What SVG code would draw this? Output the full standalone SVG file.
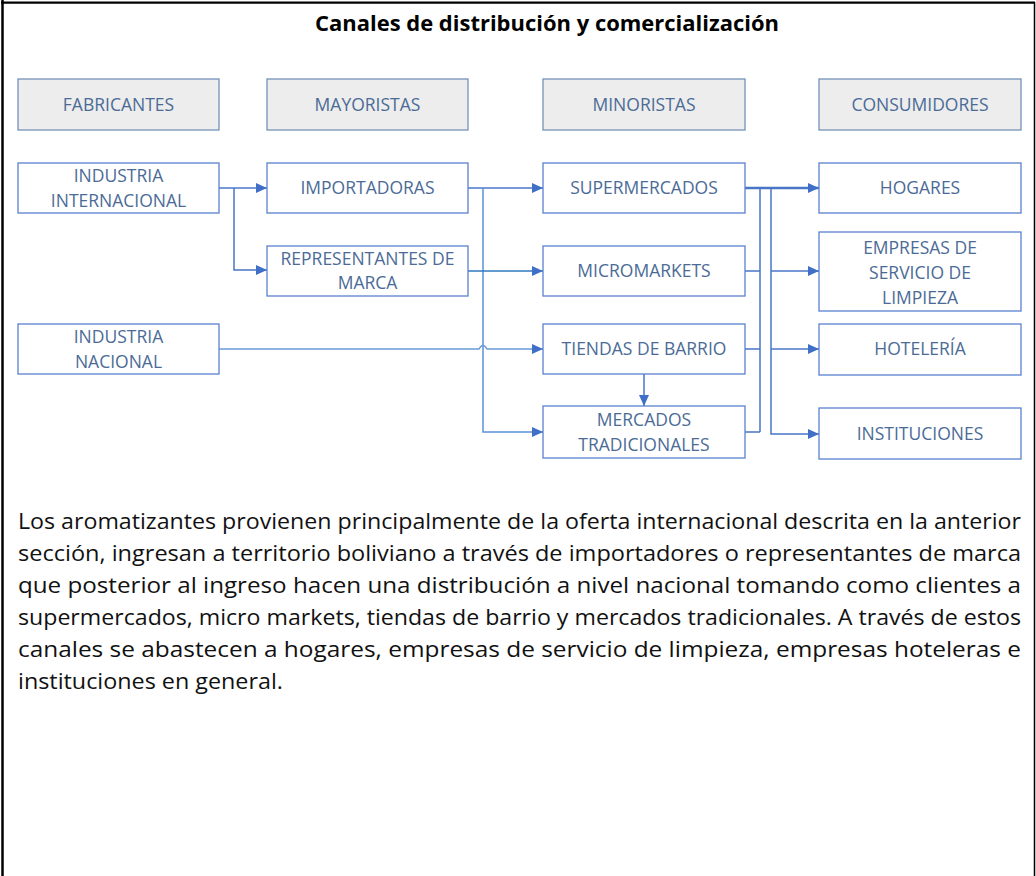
<svg xmlns="http://www.w3.org/2000/svg" width="1036" height="876" viewBox="0 0 1036 876">
<style>
.hdr rect{fill:#ededed;stroke:#7592ba;stroke-width:1.3}
.box rect{fill:#fff;stroke:#5b82d1;stroke-width:1.3}
.lbl{font-family:"Open Sans","Liberation Sans",sans-serif;font-size:17.5px;fill:#4b6b96;text-anchor:middle}
.ttl{font-family:"Open Sans","Liberation Sans",sans-serif;font-size:21px;font-weight:bold;fill:#000}
.body{font-family:"Open Sans","Liberation Sans",sans-serif;font-size:21.5px;fill:#111}
.cn{fill:none;stroke:#4a76c8;stroke-width:1.5}
.arr{marker-end:url(#ah)}
</style>
<defs>
<marker id="ah" markerUnits="userSpaceOnUse" markerWidth="11" markerHeight="10" refX="11" refY="5" orient="auto">
<path d="M0,0 L11,5 L0,10 z" fill="#3f6fc6"/>
</marker>
</defs>
<rect x="0" y="0" width="1036" height="876" fill="#fff"/>
<g id="frame" fill="none" stroke="#000">
<path d="M2.5,0 V876" stroke-width="2.5"/>
<path d="M1,2.7 H1035" stroke-width="2.2"/>
<path d="M1034.5,2 V876" stroke-width="1.5"/>
</g>
<text class="ttl" x="315" y="31" textLength="464" lengthAdjust="spacingAndGlyphs">Canales de distribución y comercialización</text>

<g id="h-fabricantes" class="hdr"><rect x="18" y="79" width="201" height="51"/><text class="lbl" x="118.5" y="111">FABRICANTES</text></g>
<g id="h-mayoristas" class="hdr"><rect x="267" y="79" width="201" height="51"/><text class="lbl" x="367.5" y="111">MAYORISTAS</text></g>
<g id="h-minoristas" class="hdr"><rect x="543" y="79" width="202" height="51"/><text class="lbl" x="644" y="111">MINORISTAS</text></g>
<g id="h-consumidores" class="hdr"><rect x="819" y="79" width="202" height="51"/><text class="lbl" x="920" y="111">CONSUMIDORES</text></g>

<g id="connectors">
<path class="cn arr" d="M219,188 H267"/>
<path class="cn arr" d="M234,188 V270 H267"/>
<path class="cn arr" d="M468,188 H543" stroke="#5a84cf"/>
<path class="cn arr" d="M483,188 V432 H543" style="stroke:#5b93d6"/>
<path class="cn arr" d="M468,271 H543" style="stroke:#2f78c0"/>
<path class="cn arr" d="M219,349 H479 Q483,342 487,349 H543" style="stroke:#6a9bd8"/>
<path class="cn arr" d="M644,374 V406"/>
<path class="cn arr" d="M745,188 H819" style="stroke-width:2.6"/>
<path class="cn" d="M760,188 V432 M745,271 H760 M745,349 H760 M745,432 H760"/>
<path class="cn arr" d="M771,188 V434 H819"/>
<path class="cn arr" d="M771,271 H819"/>
<path class="cn arr" d="M771,349 H819"/>
</g>

<g id="n-ind-internacional" class="box"><rect x="18" y="163" width="201" height="50"/><text class="lbl" x="118.5" y="182">INDUSTRIA</text><text class="lbl" x="118.5" y="207">INTERNACIONAL</text></g>
<g id="n-importadoras" class="box"><rect x="267" y="163" width="201" height="50"/><text class="lbl" x="367.5" y="194">IMPORTADORAS</text></g>
<g id="n-representantes" class="box"><rect x="267" y="246" width="201" height="50"/><text class="lbl" x="367.5" y="265">REPRESENTANTES DE</text><text class="lbl" x="367.5" y="289">MARCA</text></g>
<g id="n-ind-nacional" class="box"><rect x="18" y="324" width="201" height="50"/><text class="lbl" x="118.5" y="343">INDUSTRIA</text><text class="lbl" x="118.5" y="368">NACIONAL</text></g>
<g id="n-supermercados" class="box"><rect x="543" y="163" width="202" height="50"/><text class="lbl" x="644" y="194">SUPERMERCADOS</text></g>
<g id="n-micromarkets" class="box"><rect x="543" y="246" width="202" height="50"/><text class="lbl" x="644" y="277">MICROMARKETS</text></g>
<g id="n-tiendas" class="box"><rect x="543" y="324" width="202" height="50"/><text class="lbl" x="644" y="355">TIENDAS DE BARRIO</text></g>
<g id="n-mercados" class="box"><rect x="543" y="406" width="202" height="52"/><text class="lbl" x="644" y="426">MERCADOS</text><text class="lbl" x="644" y="451">TRADICIONALES</text></g>
<g id="n-hogares" class="box"><rect x="819" y="163" width="202" height="50"/><text class="lbl" x="920" y="194">HOGARES</text></g>
<g id="n-empresas" class="box"><rect x="819" y="232" width="202" height="79"/><text class="lbl" x="920" y="254">EMPRESAS DE</text><text class="lbl" x="920" y="279">SERVICIO DE</text><text class="lbl" x="920" y="304">LIMPIEZA</text></g>
<g id="n-hoteleria" class="box"><rect x="819" y="324" width="202" height="51"/><text class="lbl" x="920" y="355">HOTELERÍA</text></g>
<g id="n-instituciones" class="box"><rect x="819" y="408" width="202" height="51"/><text class="lbl" x="920" y="440">INSTITUCIONES</text></g>

<g id="paragraph">
<text class="body" x="18" y="529" textLength="1003" lengthAdjust="spacingAndGlyphs">Los aromatizantes provienen principalmente de la oferta internacional descrita en la anterior</text>
<text class="body" x="18" y="561" textLength="1003" lengthAdjust="spacingAndGlyphs">sección, ingresan a territorio boliviano a través de importadores o representantes de marca</text>
<text class="body" x="18" y="593" textLength="1003" lengthAdjust="spacingAndGlyphs">que posterior al ingreso hacen una distribución a nivel nacional tomando como clientes a</text>
<text class="body" x="18" y="625" textLength="1003" lengthAdjust="spacingAndGlyphs">supermercados, micro markets, tiendas de barrio y mercados tradicionales. A través de estos</text>
<text class="body" x="18" y="657" textLength="1003" lengthAdjust="spacingAndGlyphs">canales se abastecen a hogares, empresas de servicio de limpieza, empresas hoteleras e</text>
<text class="body" x="18" y="689" textLength="265" lengthAdjust="spacingAndGlyphs">instituciones en general.</text>
</g>
</svg>
